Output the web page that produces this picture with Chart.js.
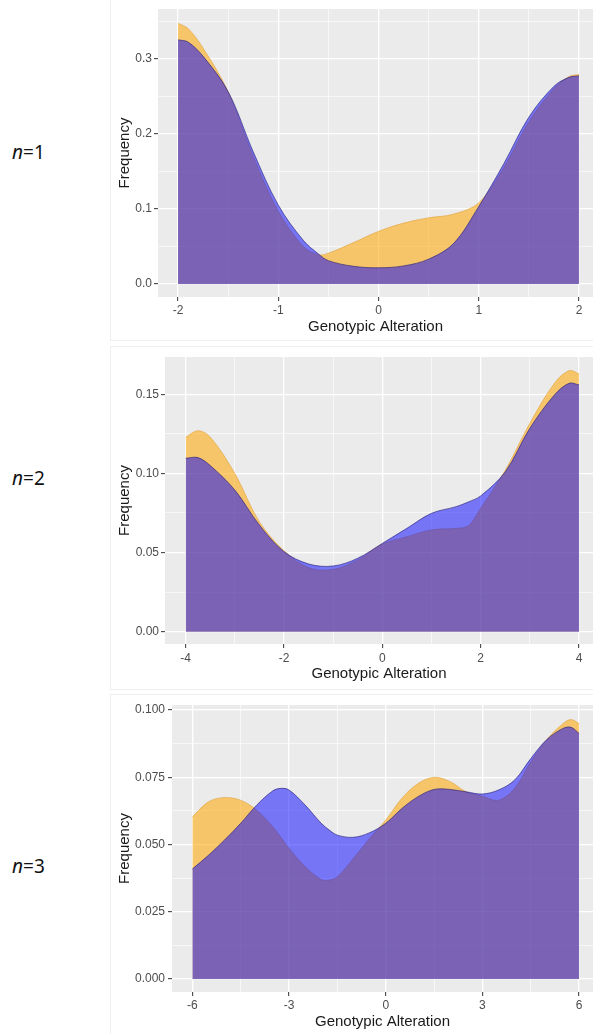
<!DOCTYPE html>
<html>
<head>
<meta charset="utf-8">
<script src="https://cdn.jsdelivr.net/npm/chart.js@4.4.0/dist/chart.umd.min.js"></script>
<style>
  body { margin: 0; background: #fff; width: 593px; height: 1034px; position: relative; overflow: hidden; }
  .card { position: absolute; left: 111px; width: 490px; box-shadow: 0 0 0 1px #efefef; background: #fff; }
  .plot { position: absolute; left: 111px; }
  .n-label { position: absolute; left: 12px; font-family: 'Noto Sans', sans-serif; font-size: 19px; line-height: 19px; color: #111; }
  .n-label i { font-style: italic; }
</style>
</head>
<body>
<div class="card" style="top:-2px;height:342px"></div>
<div class="card" style="top:347px;height:342px"></div>
<div class="card" style="top:695px;height:345px"></div>

<canvas id="plot1" class="plot" width="482" height="345" style="top:-5px"></canvas>
<canvas id="plot2" class="plot" width="482" height="347" style="top:343px"></canvas>
<canvas id="plot3" class="plot" width="482" height="343" style="top:691px"></canvas>

<div class="n-label" style="top:143px"><i>n</i>=1</div>
<div class="n-label" style="top:469px"><i>n</i>=2</div>
<div class="n-label" style="top:857px"><i>n</i>=3</div>

<script>
// n = 1
const n1X      = [-2, -1.9, -1.75, -1.5, -1.25, -1, -0.75, -0.6, -0.5, -0.25, 0, 0.25, 0.5, 0.75, 1, 1.25, 1.5, 1.75, 1.9, 2];
const n1Blue   = [0.325, 0.322, 0.303, 0.256, 0.176, 0.105, 0.058, 0.040, 0.031, 0.0235, 0.0215, 0.024, 0.033, 0.054, 0.103, 0.160, 0.222, 0.263, 0.275, 0.277];
const n1Orange = [0.347, 0.340, 0.314, 0.256, 0.170, 0.097, 0.050, 0.039, 0.041, 0.055, 0.070, 0.081, 0.088, 0.093, 0.108, 0.155, 0.216, 0.260, 0.276, 0.279];

// n = 2
const n2X      = [-4, -3.75, -3.5, -3, -2.5, -2, -1.5, -1, -0.5, 0, 0.5, 1, 1.5, 1.75, 2, 2.5, 3, 3.5, 3.8, 4];
const n2Blue   = [0.1096, 0.110, 0.105, 0.0895, 0.0674, 0.0506, 0.0428, 0.0415, 0.0464, 0.0558, 0.0653, 0.0748, 0.079, 0.082, 0.0858, 0.101, 0.1285, 0.1496, 0.157, 0.156];
const n2Orange = [0.123, 0.127, 0.123, 0.100, 0.0695, 0.0512, 0.0405, 0.0394, 0.0453, 0.0554, 0.060, 0.0643, 0.0653, 0.067, 0.078, 0.102, 0.1317, 0.157, 0.165, 0.163];

// n = 3
const n3X      = [-6, -5.5, -5, -4.5, -4, -3.5, -3.25, -3, -2.5, -2, -1.75, -1.5, -1, -0.5, 0, 0.5, 1, 1.5, 2, 2.5, 3, 3.5, 4, 4.5, 5, 5.5, 5.75, 6];
const n3Blue   = [0.0409, 0.046, 0.0517, 0.0579, 0.0647, 0.070, 0.0709, 0.0703, 0.0647, 0.0579, 0.0554, 0.0535, 0.0527, 0.0544, 0.0579, 0.0634, 0.0678, 0.0705, 0.0705, 0.0696, 0.0688, 0.0703, 0.074, 0.082, 0.0891, 0.0932, 0.0936, 0.0913];
const n3Orange = [0.0603, 0.0659, 0.0675, 0.0665, 0.0628, 0.0566, 0.0527, 0.0486, 0.0418, 0.037, 0.0368, 0.038, 0.0449, 0.0523, 0.0591, 0.0672, 0.0727, 0.075, 0.0734, 0.0696, 0.068, 0.0665, 0.0709, 0.0808, 0.0891, 0.095, 0.0965, 0.095];

const xTitle = 'Genotypic Alteration';
const yTitle = 'Frequency';

Chart.defaults.font.family = "'Liberation Sans', Arial, sans-serif";

// grey ggplot-style panel behind the grid
const panelBg = {
  id: 'panelBg',
  beforeDraw(chart) {
    const { ctx, chartArea: a } = chart;
    ctx.save();
    ctx.fillStyle = '#ebebeb';
    ctx.fillRect(a.left, a.top, a.right - a.left, a.bottom - a.top);
    ctx.restore();
  }
};

const isMajor = (v, step) => Math.abs(v / step - Math.round(v / step)) < 1e-6;

function axis(cfg) {
  const major = c => c.tick && isMajor(c.tick.value, cfg.major);
  return {
    type: 'linear',
    min: cfg.min,
    max: cfg.max,
    afterFit: s => { if (cfg.w) s.width = cfg.w; if (cfg.h) s.height = cfg.h; },
    border: { display: false },
    grid: {
      color: '#ffffff',
      lineWidth: c => major(c) ? 1.3 : 0.6,
      drawTicks: true,
      tickLength: 4,
      tickColor: c => major(c) ? '#333333' : 'rgba(0,0,0,0)',
      tickWidth: 1
    },
    ticks: {
      stepSize: cfg.major / 2,
      includeBounds: false,
      autoSkip: false,
      maxRotation: 0,
      padding: cfg.pad,
      color: '#4d4d4d',
      font: { size: 12 },
      callback: v => isMajor(v, cfg.major) ? cfg.fmt(v) : ''
    },
    title: {
      display: true,
      text: cfg.title,
      color: '#1a1a1a',
      font: { size: 15 },
      padding: cfg.titlePad
    }
  };
}

function makePanel(id, xs, blue, orange, xCfg, yCfg) {
  const pts = arr => xs.map((x, i) => ({ x: x, y: arr[i] }));
  const area = {
    pointRadius: 0,
    tension: 0.35,
    fill: 'origin',
    borderWidth: 0.8
  };
  new Chart(document.getElementById(id), {
    type: 'line',
    data: {
      datasets: [
        { ...area, label: 'blue', data: pts(blue), backgroundColor: 'rgba(0,0,255,0.5)', borderColor: 'rgba(40,30,120,0.8)' },
        { ...area, label: 'orange', data: pts(orange), backgroundColor: 'rgba(255,165,0,0.55)', borderColor: 'rgba(220,150,40,0.6)' }
      ]
    },
    options: {
      responsive: false,
      animation: false,
      layout: { padding: { top: 14, right: 0, bottom: 0, left: 0 } },
      plugins: { legend: { display: false }, tooltip: { enabled: false } },
      scales: { x: axis(xCfg), y: axis(yCfg) }
    },
    plugins: [panelBg]
  });
}

const intFmt = v => String(Math.round(v));

makePanel('plot1', n1X, n1Blue, n1Orange,
  { min: -2.2, max: 2.14, major: 1, h: 43, pad: 2, fmt: intFmt, title: xTitle, titlePad: { top: 0, bottom: 4 } },
  { min: -0.0174, max: 0.366, major: 0.1, w: 47, pad: 2, fmt: v => v.toFixed(1), title: yTitle, titlePad: { top: 5, bottom: 0 } });

makePanel('plot2', n2X, n2Blue, n2Orange,
  { min: -4.42, max: 4.285, major: 2, h: 46, pad: 3, fmt: intFmt, title: xTitle, titlePad: { top: 0, bottom: 7.5 } },
  { min: -0.0078, max: 0.1736, major: 0.05, w: 54, pad: 2, fmt: v => v.toFixed(2), title: yTitle, titlePad: { top: 5, bottom: 0 } });

makePanel('plot3', n3X, n3Blue, n3Orange,
  { min: -6.63, max: 6.43, major: 3, h: 42, pad: 2, fmt: intFmt, title: xTitle, titlePad: { top: 0, bottom: 3 } },
  { min: -0.00483, max: 0.1019, major: 0.025, w: 61, pad: 3, fmt: v => v.toFixed(3), title: yTitle, titlePad: { top: 5, bottom: 0 } });
</script>
</body>
</html>
